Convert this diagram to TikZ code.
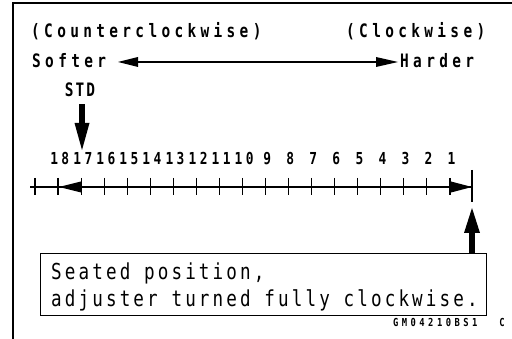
\documentclass[tikz,border=0pt]{standalone}
\usepackage{fontspec}
\newfontfamily\fntTop[FakeStretch=0.78,LetterSpace=23.5]{DejaVu Sans Mono Bold}
\newfontfamily\fntBx[FakeStretch=0.8,LetterSpace=14.2]{DejaVu Sans Mono}
\newfontfamily\fntNum[FakeStretch=0.78,LetterSpace=21]{DejaVu Sans Mono Bold}
\newfontfamily\fntStd[FakeStretch=0.78,LetterSpace=11]{DejaVu Sans Mono Bold}
\newfontfamily\fntGm[FakeStretch=0.8,LetterSpace=31.5]{DejaVu Sans Mono Bold}
\begin{document}
\begin{tikzpicture}[x=1pt,y=-1pt,
  txt/.style={inner sep=0pt, anchor=base west},
  toplbl/.style={txt, font=\fntTop\fontsize{18.5pt}{20pt}\selectfont},
  boxlbl/.style={txt, font=\fntBx\fontsize{22pt}{24pt}\selectfont},
  numlbl/.style={inner sep=0pt, anchor=base, font=\fntNum\fontsize{16.5pt}{18pt}\selectfont},
  stdlbl/.style={inner sep=0pt, anchor=base, font=\fntStd\fontsize{18.5pt}{20pt}\selectfont},
  gmlbl/.style={txt, font=\fntGm\fontsize{11pt}{12pt}\selectfont},
  tickline/.style={line width=1.2pt},
  axisline/.style={line width=1.3pt}]
\useasboundingbox (0,0) rectangle (512,339);
\fill[white] (0,0) rectangle (512,339);
% frame
\draw[line width=2.5pt] (13,339) -- (13,3) -- (512,3);
% top labels
\node[toplbl] (ccw) at (31,38) {(Counterclockwise)};
\node[toplbl] (cw) at (346,38) {(Clockwise)};
\node[toplbl] (softer) at (32,68) {Softer};
\node[toplbl] (harder) at (400,68) {Harder};
% double arrow
\coordinate (dl) at (118,62);
\coordinate (dr) at (398,62);
\draw[line width=1.5pt] ([xshift=18pt]dl) -- ([xshift=-20pt]dr);
\fill (dl) -- ++(20,-5) -- ++(0,10) -- cycle;
\fill (dr) -- ++(-22,-5) -- ++(0,10) -- cycle;
% STD
\node[stdlbl] (std) at (80,96.7) {STD};
\coordinate (stdtip) at (82,150);
\fill (79,104) rectangle (85,124);
\fill (stdtip) -- ++(-7.5,-27) -- ++(15,0) -- cycle;
% number line
\coordinate (al) at (30,187);
\coordinate (ar) at (472,187);
\draw[axisline] (al) -- (ar);
\foreach \i in {0,...,18} {
  \draw[tickline] (35+23.05*\i,178) -- (35+23.05*\i,195);
}
\foreach \i in {1,...,18} {
  \pgfmathtruncatemacro\k{19-\i}
  \node[numlbl] (n\k) at (35+23.05*\i+1.7,165) {\k};
}
\fill (59,187) -- (81,181.5) -- (81,192.5) -- cycle;
\fill (ar) -- (451,181.5) -- (451,192.5) -- cycle;
\draw[line width=1.5pt] (472,170) -- (472,202);
% up arrow
\coordinate (uptip) at (472,208);
\fill (469,232) rectangle (475,253.5);
\fill (uptip) -- ++(-8,25) -- ++(16,0) -- cycle;
% box
\node[draw, line width=1.2pt, inner sep=0pt, minimum width=446pt, minimum height=62pt, anchor=north west] (box) at (40,253) {};
\node[boxlbl] (l1) at (51,280) {Seated position,};
\node[boxlbl] (l2) at (51,307) {adjuster turned fully clockwise.};
\node[gmlbl] (gm) at (393,327) {GM04210BS1\hspace{22pt}C};
\end{tikzpicture}
\end{document}
